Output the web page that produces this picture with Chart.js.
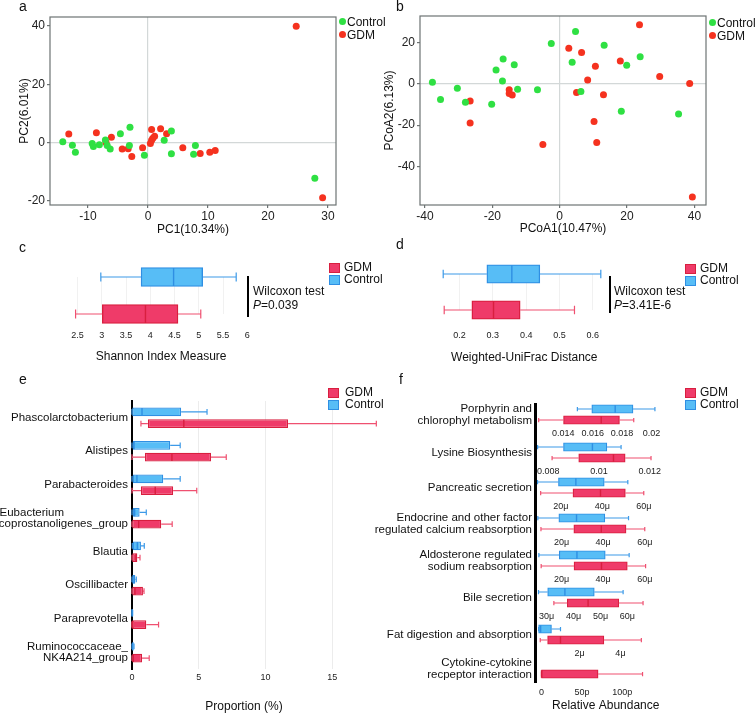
<!DOCTYPE html>
<html>
<head>
<meta charset="utf-8">
<title>GDM gut microbiota figure</title>
<script src="https://cdn.jsdelivr.net/npm/chart.js@4.4.1/dist/chart.umd.min.js"></script>
<style>
  body { margin: 0; background: #fff; font-family: "Liberation Sans", Arial, sans-serif; color: #111; }
  #page { position: relative; width: 756px; height: 714px; overflow: hidden; }
  #page canvas { position: absolute; z-index: 1; }
  .t { position: absolute; white-space: nowrap; font-size: 12px; line-height: 12px; z-index: 2; }
  .panel { position: absolute; font-size: 14px; line-height: 14px; z-index: 2; }
  .dot { position: absolute; width: 7px; height: 7px; border-radius: 50%; z-index: 2; }
  .sq { position: absolute; width: 9px; height: 8px; border: 1px solid; z-index: 2; }
  .vline { position: absolute; background: #000; z-index: 2; }
  .path { position: absolute; right: 224px; text-align: right; font-size: 11.5px; line-height: 11.7px; white-space: nowrap; z-index: 2; }
</style>
</head>
<body>
<div id="page">
  <div class="panel" style="left:19px;top:-1px">a</div>
  <div class="panel" style="left:396px;top:-1px">b</div>
  <div class="panel" style="left:19px;top:240px">c</div>
  <div class="panel" style="left:396px;top:237px">d</div>
  <div class="panel" style="left:19px;top:372px">e</div>
  <div class="panel" style="left:399px;top:372px">f</div>

  <!-- legends a / b -->
  <div class="dot" style="left:339px;top:18px;background:#2fe043"></div>
  <div class="t" style="left:347px;top:16px">Control</div>
  <div class="dot" style="left:339px;top:31px;background:#f5321f"></div>
  <div class="t" style="left:347px;top:29px">GDM</div>
  <div class="dot" style="left:709px;top:19px;background:#2fe043"></div>
  <div class="t" style="left:717px;top:17px">Control</div>
  <div class="dot" style="left:709px;top:32px;background:#f5321f"></div>
  <div class="t" style="left:717px;top:30px">GDM</div>

  <!-- legends c / d -->
  <div class="sq" style="left:329px;top:263px;background:#ef3b69;border-color:#d81f3f"></div>
  <div class="t" style="left:344px;top:261px">GDM</div>
  <div class="sq" style="left:329px;top:275px;background:#57bdf6;border-color:#2f8fe3"></div>
  <div class="t" style="left:344px;top:273px">Control</div>
  <div class="sq" style="left:685px;top:264px;background:#ef3b69;border-color:#d81f3f"></div>
  <div class="t" style="left:700px;top:262px">GDM</div>
  <div class="sq" style="left:685px;top:276px;background:#57bdf6;border-color:#2f8fe3"></div>
  <div class="t" style="left:700px;top:274px">Control</div>

  <!-- Wilcoxon annotations -->
  <div class="vline" style="left:247px;top:276px;width:2px;height:41px"></div>
  <div class="t" style="left:253px;top:284px;line-height:14.3px">Wilcoxon test<br><i>P</i>=0.039</div>
  <div class="vline" style="left:609px;top:276px;width:2px;height:37px"></div>
  <div class="t" style="left:614px;top:284px;line-height:14.3px">Wilcoxon test<br><i>P</i>=3.41E-6</div>

  <!-- legends e / f -->
  <div class="sq" style="left:328px;top:388px;background:#ef3b69;border-color:#d81f3f"></div>
  <div class="t" style="left:345px;top:386px">GDM</div>
  <div class="sq" style="left:328px;top:400px;background:#57bdf6;border-color:#2f8fe3"></div>
  <div class="t" style="left:345px;top:398px">Control</div>
  <div class="sq" style="left:685px;top:388px;background:#ef3b69;border-color:#d81f3f"></div>
  <div class="t" style="left:700px;top:386px">GDM</div>
  <div class="sq" style="left:685px;top:400px;background:#57bdf6;border-color:#2f8fe3"></div>
  <div class="t" style="left:700px;top:398px">Control</div>

  <!-- panel e axis title -->
  <div class="t" style="left:244px;top:700px;transform:translateX(-50%)">Proportion (%)</div>

  <!-- panel f axis line -->
  <div class="vline" style="left:534px;top:403px;width:2.5px;height:280px"></div>
</div>

<script>
// ---- a: PCA ----
const pcaControlX = [-14.2, -12.6, -12.1, -9.3, -9.1, -8.1, -7.1, -6.8, -6.3, -4.6, -3.0, -3.1, -0.6, 2.7, 3.9, 3.9, 7.6, 7.9, 27.8];
const pcaControlY = [0.3, -0.9, -3.3, -0.3, -1.3, -0.7, 0.9, -1.0, -2.2, 3.1, 5.3, -1.0, -4.3, 0.8, 4.0, -3.8, -4.0, -1.0, -12.2];
const pcaGdmX = [-13.2, -8.6, -7.0, -6.1, -4.3, -3.3, -2.7, -0.9, 0.4, 0.6, 0.8, 1.1, 0.6, 2.1, 3.1, 5.8, 8.7, 10.3, 11.2, 24.7, 29.1];
const pcaGdmY = [3.0, 3.4, 0.1, 1.9, -2.2, -2.1, -4.7, -1.7, -0.3, 0.8, 1.5, 2.2, 4.5, 4.8, 3.1, -1.7, -3.7, -3.3, -2.7, 39.9, -18.9];
const pcaXTicks = [-10, 0, 10, 20, 30];
const pcaYTicks = [-20, 0, 20, 40];

// ---- b: PCoA ----
const pcoaControlX = [-37.8, -35.4, -30.4, -28.0, -20.2, -18.9, -17.0, -16.8, -13.5, -12.5, -6.6, -2.5, 3.7, 4.7, 6.3, 13.2, 18.3, 19.9, 23.9, 35.3];
const pcoaControlY = [0.8, -7.5, -2.1, -8.9, -9.8, 6.8, 1.5, 12.2, 9.4, -2.6, -2.8, 19.7, 10.6, 25.5, -3.7, 18.9, -13.3, 9.1, 13.3, -14.6];
const pcoaGdmX = [-26.6, -26.6, -15.0, -15.0, -14.1, -5.0, 2.7, 5.0, 6.5, 8.3, 10.6, 10.2, 11.0, 13.0, 18.0, 23.7, 29.7, 38.6, 39.4];
const pcoaGdmY = [-8.3, -19.0, -2.8, -4.6, -5.4, -29.4, 17.4, -4.1, 15.3, 2.0, 8.6, -18.2, -28.5, -5.2, 11.2, 28.8, 3.7, 0.2, -55.0];
const pcoaXTicks = [-40, -20, 0, 20, 40];
const pcoaYTicks = [-40, -20, 0, 20];

// box stats are [min, q1, median, q3, max]
// ---- c: Shannon ----
const shannonControl = [2.98, 3.81, 4.48, 5.08, 5.77];
const shannonGdm = [2.46, 3.01, 3.90, 4.57, 5.04];
const shannonTicks = [2.5, 3, 3.5, 4, 4.5, 5, 5.5, 6];

// ---- d: weighted UniFrac ----
const unifracControl = [0.151, 0.282, 0.357, 0.441, 0.624];
const unifracGdm = [0.154, 0.237, 0.302, 0.382, 0.545];
const unifracTicks = [0.2, 0.3, 0.4, 0.5, 0.6];

// ---- e: genera ----
const genera = [
  ['Phascolarctobacterium'], ['Alistipes'], ['Parabacteroides'],
  ['Eubacterium', 'coprostanoligenes_group'], ['Blautia'], ['Oscillibacter'],
  ['Paraprevotella'], ['Ruminococcaceae_', 'NK4A214_group']
];
const generaControl = [
  [0, 0.02, 0.75, 3.68, 5.62],
  [0, 0.05, 0.15, 2.86, 3.61],
  [0, 0.05, 0.37, 2.34, 3.61],
  [0, 0.05, 0.2, 0.57, 1.07],
  [0.02, 0.05, 0.4, 0.67, 0.92],
  [0, 0.02, 0.15, 0.25, 0.32],
  [0, 0, 0.01, 0.03, 0.05],
  [0, 0, 0.05, 0.12, 0.15]
];
const generaGdm = [
  [0.67, 1.19, 3.88, 11.69, 18.3],
  [0, 0.97, 2.99, 5.92, 7.06],
  [0, 0.67, 1.74, 3.08, 4.85],
  [0, 0.02, 0.5, 2.19, 3.01],
  [0, 0.02, 0.3, 0.4, 0.6],
  [0, 0.02, 0.22, 0.82, 0.9],
  [0, 0, 0.02, 1.07, 1.99],
  [0, 0.02, 0.1, 0.75, 1.29]
];
const proportionTicks = [0, 5, 10, 15];

// ---- f: KEGG pathways (values in the unit of each axis) ----
const pathways = [
  ['Porphyrin and', 'chlorophyl metabolism'],
  ['Lysine Biosynthesis'],
  ['Pancreatic secretion'],
  ['Endocrine and other factor', 'regulated calcium reabsorption'],
  ['Aldosterone regulated', 'sodium reabsorption'],
  ['Bile secretion'],
  ['Fat digestion and absorption'],
  ['Cytokine-cytokine', 'recpeptor interaction']
];
const pathwayControl = [
  [0.01496, 0.01594, 0.01753, 0.01874, 0.02023],
  [0.00758, 0.0086, 0.00974, 0.01031, 0.01087],
  [8.7, 18.8, 27.2, 40.9, 52.3],
  [8.6, 18.7, 27.2, 40.8, 52.2],
  [9.1, 18.9, 27.4, 41.0, 52.5],
  [27.0, 30.4, 36.8, 47.7, 58.4],
  [0, 0, 0.1, 0.63, 1.07],
  null
];
const pathwayGdm = [
  [0.01233, 0.01402, 0.01658, 0.01782, 0.01879],
  [0.00815, 0.0092, 0.01057, 0.01103, 0.01205],
  [10.2, 25.8, 39.1, 51.1, 60.0],
  [10.1, 25.9, 39.1, 51.0, 60.0],
  [10.2, 26.0, 39.2, 51.6, 60.4],
  [32.7, 37.7, 45.4, 56.8, 65.8],
  [0.08, 0.44, 1.07, 3.19, 5.02],
  [0, 0, 0, 70, 125]
];
const pathwayMin = [0.012149, 0.007516, 7.95, 7.72, 7.72, 26.07, -0.127, 0];
const pathwayMax = [0.021254, 0.012798, 72.67, 72.13, 72.13, 75.8, 6.42, 158.96];
const pathwayTicks = [
  [0.014, 0.016, 0.018, 0.02], [0.008, 0.01, 0.012], [20, 40, 60], [20, 40, 60],
  [20, 40, 60], [30, 40, 50, 60], [2, 4], [0, 50, 100]
];
const pathwayTickLabels = [
  ['0.014', '0.016', '0.018', '0.02'], ['0.008', '0.01', '0.012'],
  ['20μ', '40μ', '60μ'], ['20μ', '40μ', '60μ'], ['20μ', '40μ', '60μ'],
  ['30μ', '40μ', '50μ', '60μ'], ['2μ', '4μ'], ['0', '50p', '100p']
];

// ---- colours / layout ----
const GREEN = '#2fe043', RED_PT = '#f5321f';
const BLUE_FILL = '#57bdf6', BLUE_EDGE = '#2f8fe3', BLUE_WHISK = '#3d9ae8';
const RED_FILL = '#ef3b69', RED_EDGE = '#d81f3f', RED_WHISK = '#ef5070';
const FRAME = '#6d7373';
const fRowTop = [403, 441, 476, 512, 549, 586, 623, 657];

Chart.defaults.font.family = '"Liberation Sans", Arial, sans-serif';
Chart.defaults.animation = false;
Chart.defaults.responsive = false;
Chart.defaults.maintainAspectRatio = false;
Chart.defaults.plugins.legend.display = false;
Chart.defaults.plugins.tooltip.enabled = false;

const page = document.getElementById('page');

function makeCanvas(left, top, w, h) {
  const c = document.createElement('canvas');
  c.width = w;
  c.height = h;
  c.style.left = left + 'px';
  c.style.top = top + 'px';
  page.appendChild(c);
  return c.getContext('2d');
}

function zip(xs, ys) {
  return xs.map((x, i) => ({ x: x, y: ys[i] }));
}

function fixedTicks(values) {
  return function(scale) {
    scale.ticks = values.map(v => ({ value: v }));
  };
}

// draws the frame round a scatter plot
const frame = {
  id: 'frame',
  afterDraw(chart) {
    const { ctx, chartArea: a } = chart;
    ctx.save();
    ctx.strokeStyle = FRAME;
    ctx.lineWidth = 1.2;
    ctx.strokeRect(a.left, a.top, a.right - a.left, a.bottom - a.top);
    ctx.restore();
  }
};

// whiskers, caps and median for floating bars that carry box stats
const boxWhiskers = {
  id: 'boxWhiskers',
  afterDatasetsDraw(chart, args, opts) {
    const ctx = chart.ctx;
    const xs = chart.scales.x;
    const capRatio = opts.cap || 0.5;
    chart.data.datasets.forEach((ds, di) => {
      const meta = chart.getDatasetMeta(di);
      meta.data.forEach((bar, i) => {
        const s = ds.stats[i];
        if (!s) return;
        const [lo, q1, med, q3, hi] = s.map(v => xs.getPixelForValue(v));
        const y = bar.y, h = bar.height;
        const pick = c => Array.isArray(c) ? c[i] : c;
        const cap = h * capRatio / 2;
        ctx.save();
        ctx.strokeStyle = pick(ds.whiskerColor);
        ctx.lineWidth = 1.2;
        ctx.beginPath();
        if (lo < q1) { ctx.moveTo(lo, y); ctx.lineTo(q1, y); }
        if (hi > q3) { ctx.moveTo(q3, y); ctx.lineTo(hi, y); }
        ctx.moveTo(lo, y - cap); ctx.lineTo(lo, y + cap);
        ctx.moveTo(hi, y - cap); ctx.lineTo(hi, y + cap);
        ctx.stroke();
        if (q3 > q1) {
          ctx.strokeStyle = pick(ds.borderColor);
          ctx.lineWidth = 1.4;
          ctx.beginPath();
          ctx.moveTo(med, y - h / 2 + 0.5);
          ctx.lineTo(med, y + h / 2 - 0.5);
          ctx.stroke();
        }
        ctx.restore();
      });
    });
  }
};

function scatterPanel(ctx, p) {
  const zeroGrid = c => (c.tick && c.tick.value === 0) ? '#d3d8d8' : 'rgba(0,0,0,0)';
  return new Chart(ctx, {
    type: 'scatter',
    data: {
      datasets: [
        { label: 'Control', data: zip(p.cx, p.cy), backgroundColor: GREEN, pointRadius: 3.5, pointBorderWidth: 0 },
        { label: 'GDM', data: zip(p.gx, p.gy), backgroundColor: RED_PT, pointRadius: 3.5, pointBorderWidth: 0 }
      ]
    },
    options: {
      layout: { padding: { top: p.padTop, right: 4, left: 0, bottom: 0 } },
      scales: {
        x: {
          type: 'linear', min: p.xMin, max: p.xMax,
          afterBuildTicks: fixedTicks(p.xTicks),
          afterFit: s => { s.height = 35; },
          grid: { color: zeroGrid, lineWidth: 1.2, tickColor: FRAME, tickLength: 3 },
          border: { display: false },
          ticks: { color: '#222', font: { size: 12 }, padding: 1 },
          title: { display: true, text: p.xTitle, color: '#111', font: { size: 12 }, padding: { top: 0, bottom: p.xTitlePad } }
        },
        y: {
          type: 'linear', min: p.yMin, max: p.yMax,
          afterBuildTicks: fixedTicks(p.yTicks),
          afterFit: s => { s.width = p.yWidth; },
          grid: { color: zeroGrid, lineWidth: 1.2, tickColor: FRAME, tickLength: 3 },
          border: { display: false },
          ticks: { color: '#222', font: { size: 12 }, padding: 2 },
          title: { display: true, text: p.yTitle, color: '#111', font: { size: 12 }, padding: { top: p.yTitlePad, bottom: 0 } }
        }
      }
    },
    plugins: [frame]
  });
}

scatterPanel(makeCanvas(0, 0, 340, 240), {
  cx: pcaControlX, cy: pcaControlY, gx: pcaGdmX, gy: pcaGdmY,
  xMin: -16.33, xMax: 31.33, yMin: -21.36, yMax: 43.09,
  xTicks: pcaXTicks, yTicks: pcaYTicks,
  xTitle: 'PC1(10.34%)', yTitle: 'PC2(6.01%)',
  padTop: 17, yWidth: 50, xTitlePad: 2.8, yTitlePad: 17.8
});

scatterPanel(makeCanvas(378, 0, 332, 240), {
  cx: pcoaControlX, cy: pcoaControlY, gx: pcoaGdmX, gy: pcoaGdmY,
  xMin: -41.49, xMax: 43.45, yMin: -58.88, yMax: 33.09,
  xTicks: pcoaXTicks, yTicks: pcoaYTicks,
  xTitle: 'PCoA1(10.47%)', yTitle: 'PCoA2(6.13%)',
  padTop: 16, yWidth: 42, xTitlePad: 4.5, yTitlePad: 4.5
});

// c and d: one box per group
function pairPanel(ctx, p) {
  return new Chart(ctx, {
    type: 'bar',
    data: {
      labels: ['Control', 'GDM'],
      datasets: [{
        data: [[p.control[1], p.control[3]], [p.gdm[1], p.gdm[3]]],
        stats: [p.control, p.gdm],
        backgroundColor: [BLUE_FILL, RED_FILL],
        borderColor: [BLUE_EDGE, RED_EDGE],
        whiskerColor: [BLUE_WHISK, RED_WHISK],
        borderWidth: 1.4, borderSkipped: false,
        barThickness: p.thickness, clip: false
      }]
    },
    options: {
      indexAxis: 'y',
      layout: { padding: { left: 10, right: 10, top: p.padTop, bottom: 0 } },
      plugins: { boxWhiskers: { cap: 0.47 } },
      scales: {
        y: { display: false, offset: false },
        x: {
          type: 'linear', min: p.min, max: p.max,
          afterBuildTicks: fixedTicks(p.ticks),
          afterFit: s => { s.height = p.axisHeight; },
          grid: { color: '#f1f1f1', drawTicks: false },
          border: { display: false },
          ticks: { color: '#222', font: { size: 9 }, padding: p.tickPad, callback: v => String(v) },
          title: { display: true, text: p.title, color: '#111', font: { size: 12 }, padding: { top: 0, bottom: 0 } }
        }
      }
    },
    plugins: [boxWhiskers]
  });
}

pairPanel(makeCanvas(55, 250, 211, 114), {
  control: shannonControl, gdm: shannonGdm, ticks: shannonTicks,
  min: 2.3425, max: 6.1025, padTop: 27, axisHeight: 50, tickPad: 16,
  thickness: 19, title: 'Shannon Index Measure'
});

pairPanel(makeCanvas(430, 250, 190, 115), {
  control: unifracControl, gdm: unifracGdm, ticks: unifracTicks,
  min: 0.1414, max: 0.6473, padTop: 24, axisHeight: 55, tickPad: 20,
  thickness: 18.5, title: 'Weighted-UniFrac Distance'
});

// e: genera, grouped boxes
const measure = document.createElement('canvas').getContext('2d');
measure.font = '11.5px "Liberation Sans"';
function leftAlignLines(lines) {
  const w = Math.max(...lines.map(l => measure.measureText(l).width));
  return lines.map(l => {
    let s = l;
    while (measure.measureText(s + ' ').width <= w) s += ' ';
    return s;
  });
}

new Chart(makeCanvas(0, 380, 381, 334), {
  type: 'bar',
  data: {
    labels: genera,
    datasets: [
      {
        label: 'Control', data: generaControl.map(s => [s[1], s[3]]), stats: generaControl,
        backgroundColor: BLUE_FILL, borderColor: BLUE_EDGE, whiskerColor: BLUE_WHISK,
        borderWidth: 1.3, borderSkipped: false, categoryPercentage: 0.695, barPercentage: 0.75
      },
      {
        label: 'GDM', data: generaGdm.map(s => [s[1], s[3]]), stats: generaGdm,
        backgroundColor: RED_FILL, borderColor: RED_EDGE, whiskerColor: RED_WHISK,
        borderWidth: 1.3, borderSkipped: false, categoryPercentage: 0.695, barPercentage: 0.75
      }
    ]
  },
  options: {
    indexAxis: 'y',
    layout: { padding: { top: 21, right: 2, left: 0, bottom: 0 } },
    plugins: { boxWhiskers: { cap: 0.65 } },
    scales: {
      y: {
        afterFit: s => { s.width = 132; },
        grid: { display: false, drawTicks: false },
        border: { color: '#000', width: 2 },
        ticks: {
          color: '#111', font: { size: 11.5, lineHeight: 1.02 }, padding: 4,
          callback: (v, i) => i === 3 ? leftAlignLines(genera[i]) : genera[i]
        }
      },
      x: {
        type: 'linear', min: 0, max: 18.5,
        afterBuildTicks: fixedTicks(proportionTicks),
        afterFit: s => { s.height = 45; },
        grid: { color: c => (c.tick && c.tick.value === 0) ? 'rgba(0,0,0,0)' : '#ececec', drawTicks: false },
        border: { display: false },
        ticks: { color: '#222', font: { size: 9 }, padding: 3 }
      }
    }
  },
  plugins: [boxWhiskers]
});

// f: one small chart per pathway
pathways.forEach((name, i) => {
  const last = i === pathways.length - 1;
  const top = fRowTop[i];
  const axisHeight = last ? 39 : 20;
  new Chart(makeCanvas(526, top, 154, 6 + 11 + axisHeight), {
    type: 'bar',
    data: {
      labels: ['Control', 'GDM'],
      datasets: [{
        data: [pathwayControl[i] ? [pathwayControl[i][1], pathwayControl[i][3]] : null,
               [pathwayGdm[i][1], pathwayGdm[i][3]]],
        stats: [pathwayControl[i], pathwayGdm[i]],
        backgroundColor: [BLUE_FILL, RED_FILL],
        borderColor: [BLUE_EDGE, RED_EDGE],
        whiskerColor: [BLUE_WHISK, RED_WHISK],
        borderWidth: 1.2, borderSkipped: false, barThickness: 8.5, clip: false
      }]
    },
    options: {
      indexAxis: 'y',
      layout: { padding: { left: 10, right: 10, top: 6, bottom: 0 } },
      plugins: { boxWhiskers: { cap: 0.5 } },
      scales: {
        y: { display: false, offset: false },
        x: {
          type: 'linear', min: pathwayMin[i], max: pathwayMax[i],
          afterBuildTicks: fixedTicks(pathwayTicks[i]),
          afterFit: s => { s.height = axisHeight; },
          grid: { display: false, drawTicks: false },
          border: { display: false },
          ticks: { color: '#222', font: { size: 9 }, padding: last ? 13 : 8.5,
                   callback: (v, k) => pathwayTickLabels[i][k] },
          title: { display: last, text: 'Relative Abundance', color: '#111', font: { size: 12 }, padding: { top: 0, bottom: 0 } }
        }
      }
    },
    plugins: [boxWhiskers]
  });

  const lbl = document.createElement('div');
  lbl.className = 'path';
  lbl.innerHTML = name.join('<br>');
  lbl.style.top = (top + 11.5 - name.length * 11.7 / 2) + 'px';
  page.appendChild(lbl);
});
</script>
</body>
</html>
